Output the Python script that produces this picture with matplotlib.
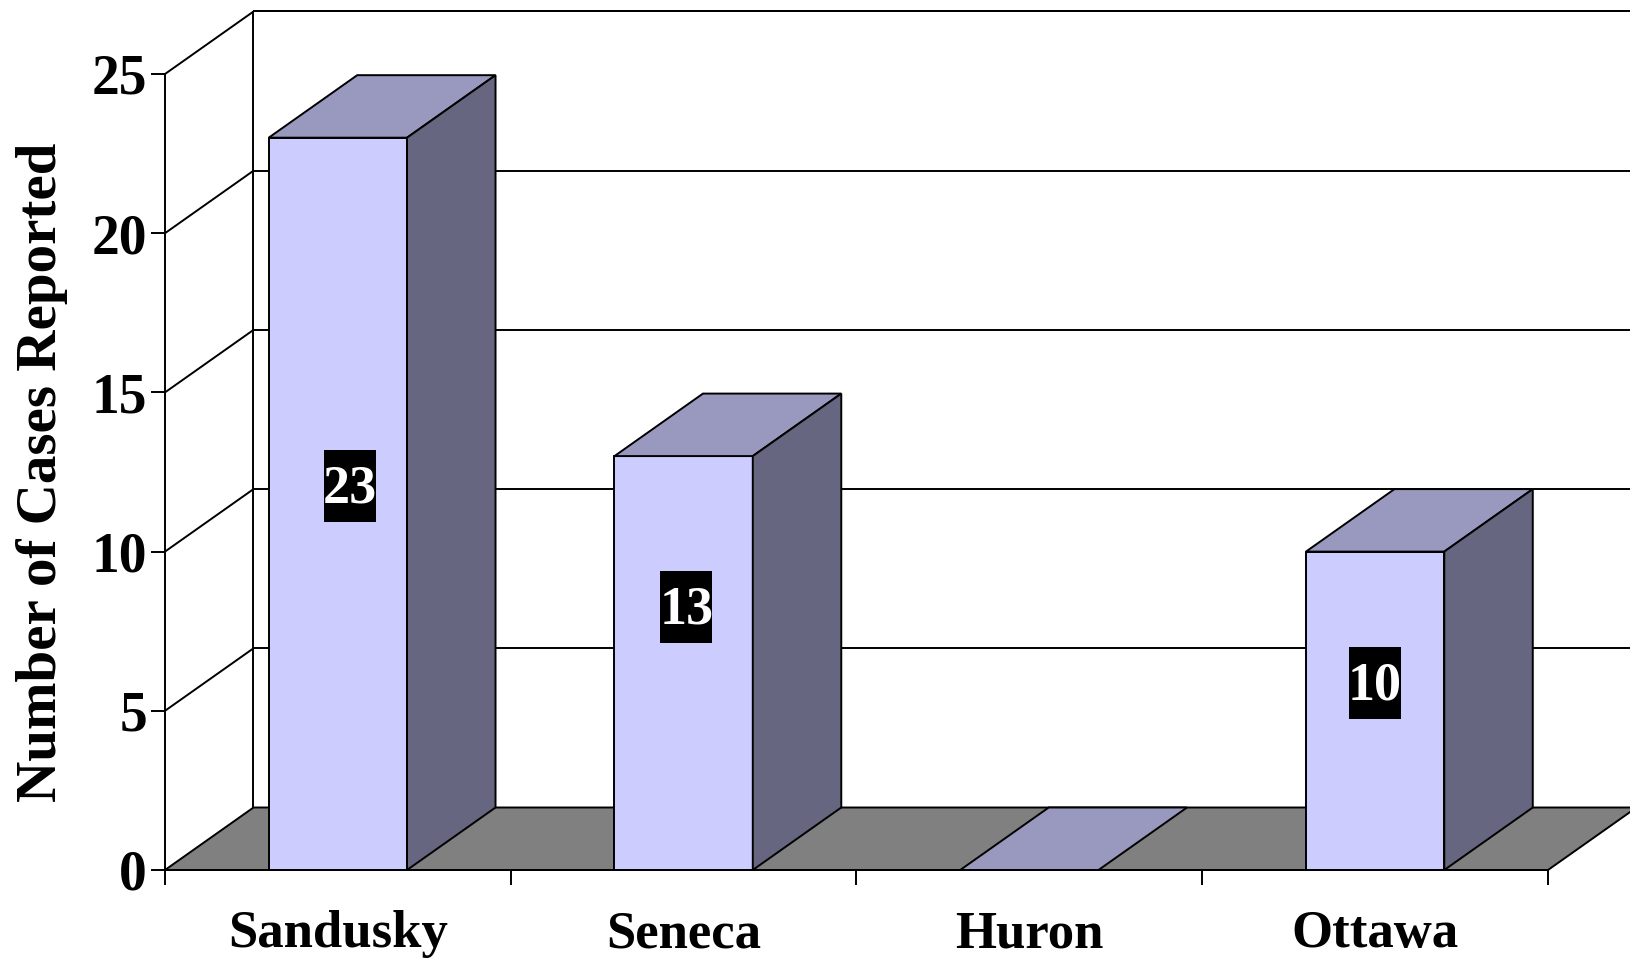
import matplotlib
matplotlib.use('Agg')
import matplotlib.pyplot as plt
from matplotlib.patches import Polygon, Rectangle

counties = ['Sandusky', 'Seneca', 'Huron', 'Ottawa']
cases = [23, 13, 0, 10]
y_ticks = [0, 5, 10, 15, 20, 25]

# where the value boxes sit relative to the bar centre (x, y in data units)
box_nudge = {'Sandusky': (0.035, 0.56), 'Seneca': (0.008, 1.77), 'Ottawa': (0.0, 0.88)}

FRONT = '#CCCCFF'
TOP = '#9999BF'
SIDE = '#666680'
FLOOR = '#808080'
LW = 1.4

W, H = 1631, 958
plt.rcParams['font.family'] = ['Liberation Serif']
plt.rcParams['font.weight'] = 'bold'

fig = plt.figure(figsize=(W / 100, H / 100), dpi=100)
ax = fig.add_axes([165 / W, (H - 870) / H, 1383 / W, 796 / H])
ax.set_xlim(0, 4)
ax.set_ylim(0, 25)

# fake 3d depth, in data units
dx = 88.5 / (1383 / 4)
dy = 62.5 / (796 / 25)
bar_w = 0.4
box_w, box_h = 0.15, 2.25


def poly(pts, fc='none', z=2, lw=LW):
    ax.add_patch(Polygon(pts, closed=True, fc=fc, ec='black', lw=lw, zorder=z,
                         clip_on=False, joinstyle='miter'))


def line(xs, ys, z=1.5):
    ax.plot(xs, ys, color='black', lw=LW, zorder=z, clip_on=False, solid_capstyle='butt')


# floor and walls
poly([(0, 0), (4, 0), (4 + dx, dy), (dx, dy)], fc=FLOOR, z=1)
line([dx, dx], [dy, 25 + dy])
line([dx, 4 + dx], [25 + dy, 25 + dy])
for v in y_ticks[1:]:
    line([0, dx], [v, v + dy])
    line([dx, 4 + dx], [v + dy, v + dy])

# bars
xpos = [i + 0.5 for i in range(len(counties))]
ax.bar(xpos, cases, width=bar_w, color=FRONT, edgecolor='black', linewidth=LW, zorder=3, clip_on=False)
for x, v in zip(xpos, cases):
    l, r = x - bar_w / 2, x + bar_w / 2
    poly([(l, v), (r, v), (r + dx, v + dy), (l + dx, v + dy)], fc=TOP, z=3)
    if v > 0:
        poly([(r, 0), (r + dx, dy), (r + dx, v + dy), (r, v)], fc=SIDE, z=3)

# value boxes
for name, x, v in zip(counties, xpos, cases):
    if v == 0:
        continue
    nx, ny = box_nudge[name]
    cx, cy = x + nx, v / 2 + ny
    ax.add_patch(Rectangle((cx - box_w / 2, cy - box_h / 2), box_w, box_h, fc='black', ec='none', zorder=5))
    ax.text(cx, cy - 0.12, str(v), color='white', fontsize=39, ha='center', va='center', zorder=6)

# axes
for s in ['top', 'right']:
    ax.spines[s].set_visible(False)
for s in ['left', 'bottom']:
    ax.spines[s].set_linewidth(LW)
    ax.spines[s].set_zorder(4)
ax.patch.set_visible(False)

ax.set_yticks(y_ticks)
ax.set_xticks(range(5))
ax.set_xticklabels([])
ax.set_xticks(xpos, counties, minor=True)
ax.tick_params(axis='y', length=10, width=LW, labelsize=40, pad=3)
ax.tick_params(axis='x', which='major', length=11, width=LW)
ax.tick_params(axis='x', which='minor', length=0, labelsize=38, pad=29)

ax.set_ylabel('Number of Cases Reported', fontsize=41, va='center', weight='bold')
ax.yaxis.set_label_coords((41 - 159) / 1330, (836 - 454) / 765)

fig.savefig('out.png', dpi=100)
